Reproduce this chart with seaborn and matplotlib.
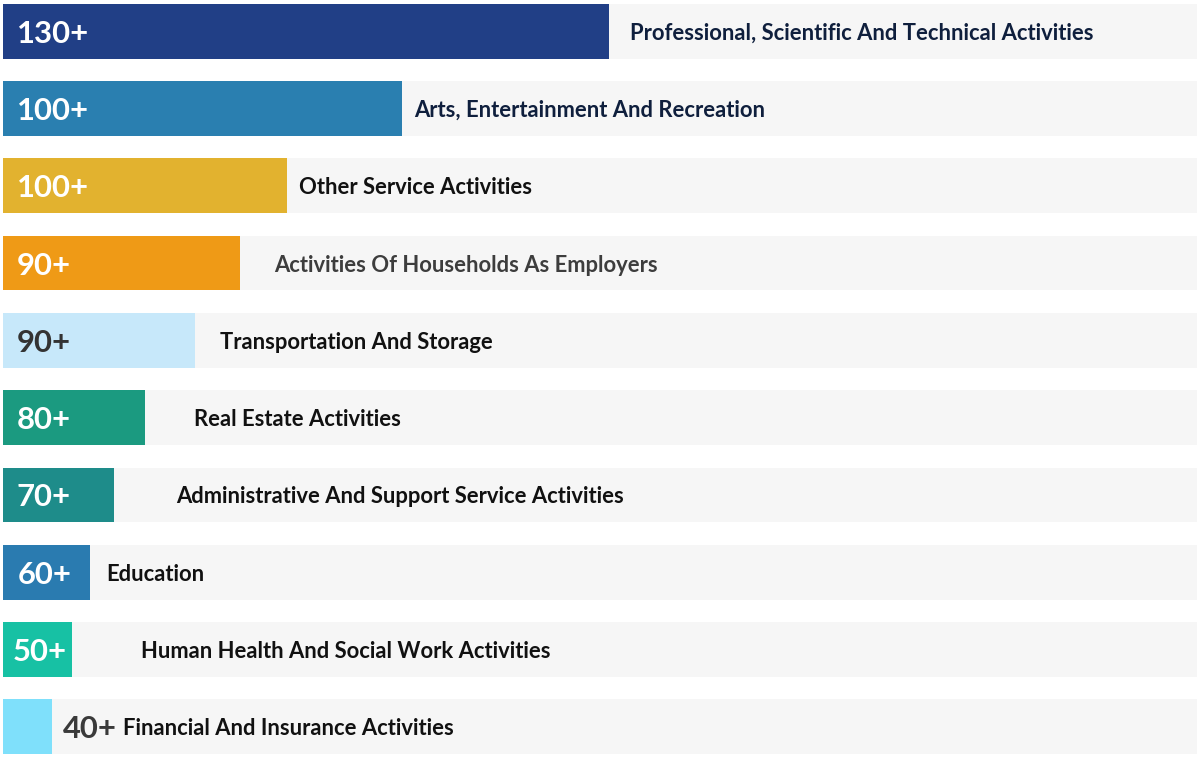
import matplotlib
matplotlib.use("Agg")
import matplotlib.pyplot as plt
import seaborn as sns
import pandas as pd

# ---- data ----
categories = [
    "Professional, Scientific And Technical Activities",
    "Arts, Entertainment And Recreation",
    "Other Service Activities",
    "Activities Of Households As Employers",
    "Transportation And Storage",
    "Real Estate Activities",
    "Administrative And Support Service Activities",
    "Education",
    "Human Health And Social Work Activities",
    "Financial And Insurance Activities",
]
value_labels = ["130+", "100+", "100+", "90+", "90+", "80+", "70+", "60+", "50+", "40+"]
bar_lengths = [606, 399, 284, 237, 192, 142, 111, 87, 69, 49]
track_length = [1194] * len(categories)

# ---- styles / layout ----
bar_colors = ["#213f86", "#2a7fb0", "#e2b22f", "#ef9a16", "#c7e8fa",
              "#1b9a80", "#1e8c8a", "#2a7bb0", "#17c1a4", "#7fe0fb"]
value_colors = ["white"] * 4 + ["#333333"] + ["white"] * 4 + ["#3a3a3a"]
label_colors = ["#0f1f3d", "#0f1f3d", "#111111", "#3d3d3d", "#111111",
                "#111111", "#111111", "#111111", "#111111", "#111111"]
value_x = [14, 14, 14, 14, 14, 14, 14, 15, 10, 60]
label_x = [627, 411, 296, 271, 217, 191, 173, 103, 138, 120]

df = pd.DataFrame({"category": categories, "length": bar_lengths, "track": track_length})

sns.set_theme(style="white")
plt.rcParams["font.family"] = ["Lato", "DejaVu Sans"]

fig = plt.figure(figsize=(12, 7.58), dpi=100)
ax = fig.add_axes([0, 0, 1, 1])

sns.barplot(data=df, y="category", x="track", color="#f6f6f6", saturation=1,
            width=0.711, orient="h", ax=ax, linewidth=0)
sns.barplot(data=df, y="category", x="length", hue="category", palette=bar_colors,
            saturation=1, width=0.711, orient="h", ax=ax, linewidth=0, legend=False,
            dodge=False)

for i in range(len(categories)):
    ax.text(value_x[i], i, value_labels[i], va="center_baseline", ha="left",
            fontsize=22.3, fontweight="bold", color=value_colors[i])
    ax.text(label_x[i], i, categories[i], va="center_baseline", ha="left",
            fontsize=15.8, fontweight="bold", color=label_colors[i])

ax.set_xlim(-3, 1197)
ax.set_ylim(9.401, -0.401)
ax.set_axis_off()

fig.savefig("out.png", dpi=100, facecolor="white")
